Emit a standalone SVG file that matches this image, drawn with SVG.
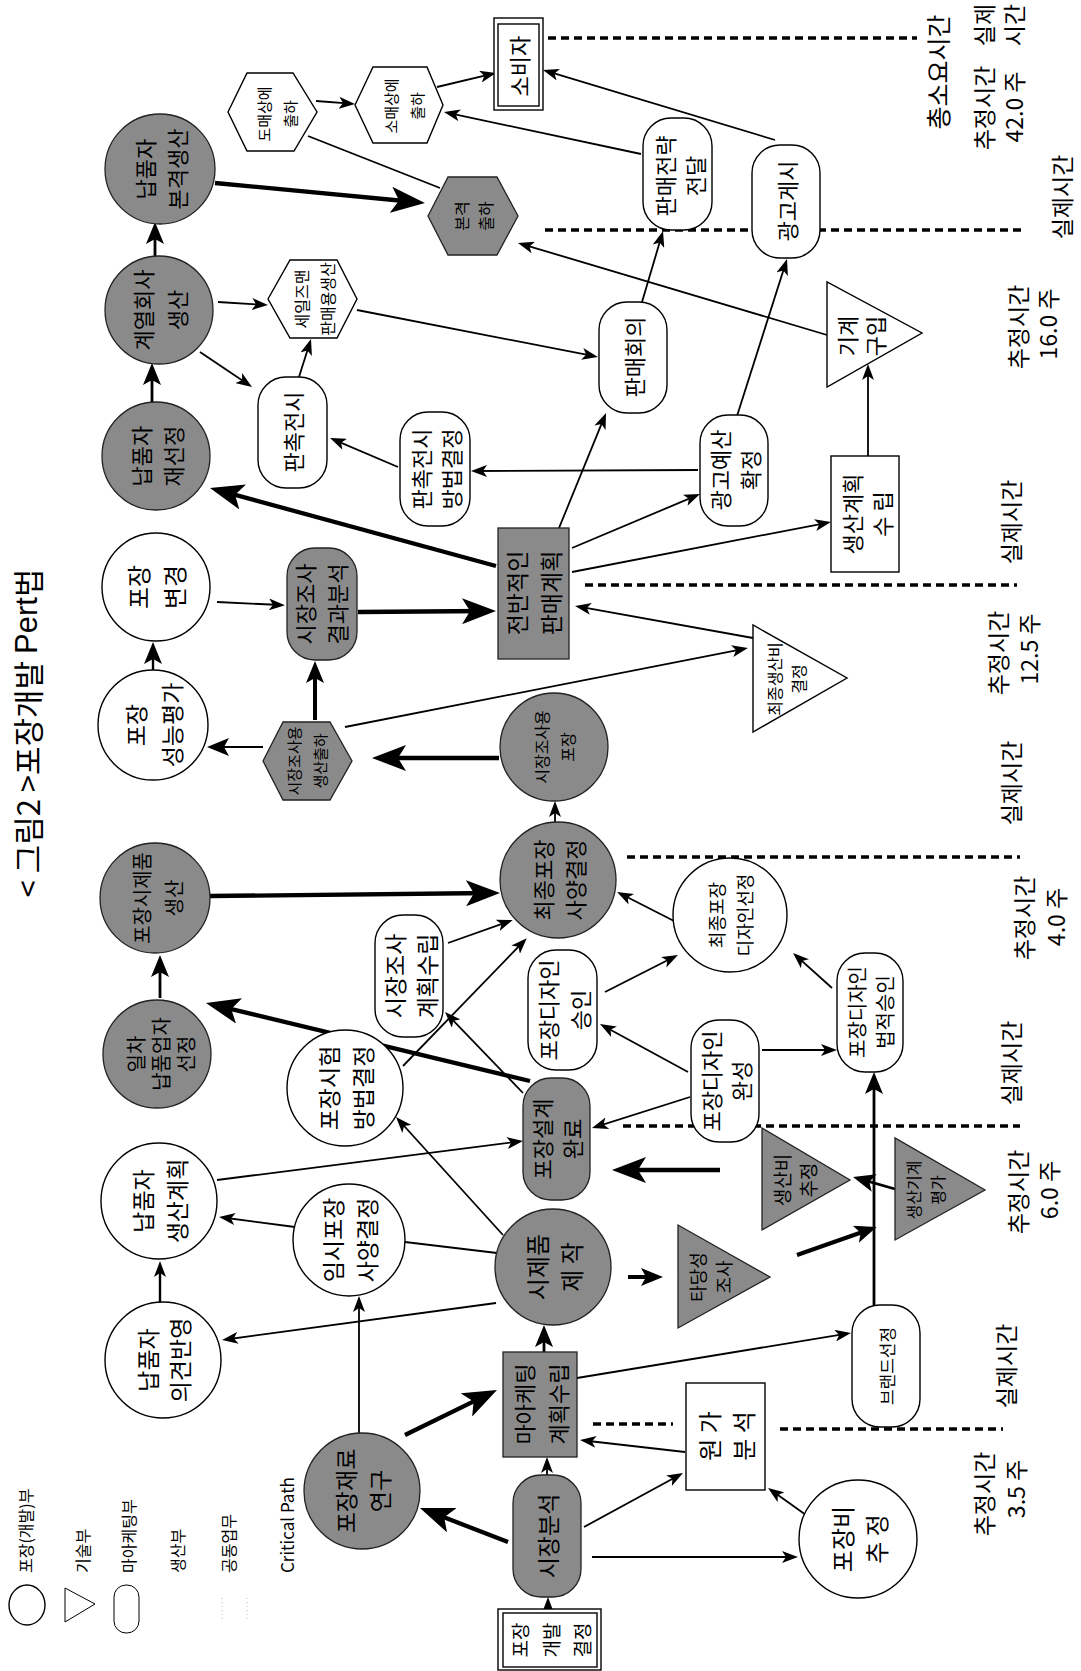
<svg xmlns="http://www.w3.org/2000/svg" width="1081" height="1671" viewBox="0 0 1081 1671">
<style>
.n{fill:#fff;stroke:#000;stroke-width:1.4}
.d{fill:#8a8a8a;stroke:#222;stroke-width:1.3}
.t{font-family:"Noto Sans CJK KR","Noto Sans",sans-serif;text-anchor:middle;dominant-baseline:central;fill:#000}
.s{font-family:"Noto Sans CJK KR","Noto Sans",sans-serif;text-anchor:start;dominant-baseline:central;fill:#000}
.l{stroke:#000;stroke-width:1.8;fill:none;marker-end:url(#ah)}
.lm{stroke:#000;stroke-width:2.8;fill:none;marker-end:url(#mh)}
.L{stroke:#000;stroke-width:4.3;fill:none;marker-end:url(#AH)}
.p{stroke:#000;stroke-width:1.8;fill:none}
.dash{stroke:#000;stroke-width:3.5;stroke-dasharray:8 5;fill:none}
</style>
<defs>
<marker id="ah" viewBox="0 0 16 12" refX="12" refY="6" markerWidth="16" markerHeight="12" markerUnits="userSpaceOnUse" orient="auto"><path d="M0,0L16,6L0,12L4,6z"/></marker>
<marker id="mh" viewBox="0 0 22 18" refX="16" refY="9" markerWidth="22" markerHeight="18" markerUnits="userSpaceOnUse" orient="auto"><path d="M0,0L22,9L0,18L5,9z"/></marker>
<marker id="AH" viewBox="0 0 34 26" refX="24" refY="13" markerWidth="34" markerHeight="26" markerUnits="userSpaceOnUse" orient="auto"><path d="M0,0L34,13L0,26L8,13z"/></marker>
</defs>
<rect width="1081" height="1671" fill="#fff"/>

<g id="dashes">
<path class="dash" d="M548,38H917"/>
<path class="dash" d="M545,230H1023"/>
<path class="dash" d="M585,585H1017"/>
<path class="dash" d="M627,857H1020"/>
<path class="dash" d="M623,1126H1020"/>
<path class="dash" d="M593,1424H673"/>
<path class="dash" d="M780,1429H1003"/>
</g>

<g id="connectors">
<line class="l" x1="548" y1="1609" x2="548" y2="1601"/>
<line class="l" x1="584" y1="1527" x2="679.5" y2="1475"/>
<line class="l" x1="592" y1="1557" x2="794" y2="1557"/>
<line class="l" x1="806" y1="1515" x2="771.3" y2="1490.3"/>
<line class="l" x1="685" y1="1452" x2="584" y2="1440.5"/>
<line class="l" x1="577" y1="1378" x2="847" y2="1333.6"/>
<line class="l" x1="547" y1="1475" x2="547" y2="1461"/>
<line class="l" x1="359" y1="1433" x2="359" y2="1300"/>
<line class="l" x1="496" y1="1303" x2="226" y2="1339.5"/>
<line class="l" x1="160" y1="1302" x2="160" y2="1265" style="stroke-width:2.4"/>
<line class="p" x1="497" y1="1253" x2="405" y2="1242"/>
<line class="l" x1="295" y1="1227" x2="223" y2="1217.5"/>
<line class="l" x1="503" y1="1235" x2="398.7" y2="1120"/>
<line class="l" x1="217" y1="1180" x2="519" y2="1141.5"/>
<line class="l" x1="690" y1="1097" x2="595.8" y2="1126.8"/>
<line class="l" x1="523" y1="1093" x2="447.8" y2="1014.9"/>
<line class="l" x1="403" y1="1066" x2="524" y2="941"/>
<line class="l" x1="448" y1="943" x2="509" y2="921.3"/>
<line class="l" x1="605" y1="992" x2="674.4" y2="956.8"/>
<line class="l" x1="676" y1="922" x2="620.6" y2="893.8"/>
<line class="l" x1="688" y1="1072" x2="603.5" y2="1026"/>
<line class="l" x1="762" y1="1050" x2="833" y2="1050"/>
<line class="l" x1="832" y1="988" x2="796" y2="955.7"/>
<line class="lm" x1="874" y1="1305" x2="874" y2="1078"/>
<line class="lm" x1="895" y1="1189" x2="858.8" y2="1178.6"/>
<line class="lm" x1="797" y1="1255" x2="871" y2="1229" style="stroke-width:4"/>
<line class="lm" x1="628" y1="1277" x2="657" y2="1277" style="stroke-width:4"/>
<line class="l" x1="555" y1="822" x2="555" y2="805"/>
<line class="L" x1="499" y1="758" x2="382" y2="758"/>
<line class="lm" x1="263" y1="747" x2="213" y2="747" style="stroke-width:2.2"/>
<line class="lm" x1="315" y1="720" x2="315" y2="667" style="stroke-width:4"/>
<line class="lm" x1="153" y1="670" x2="153" y2="648" style="stroke-width:2.4"/>
<line class="l" x1="217" y1="602" x2="281" y2="605"/>
<line class="L" x1="358" y1="612" x2="486" y2="611"/>
<line class="l" x1="345" y1="727" x2="744" y2="648.8"/>
<line class="l" x1="753" y1="638" x2="579" y2="606.7"/>
<line class="L" x1="496" y1="566" x2="219.6" y2="490.6"/>
<line class="l" x1="559" y1="528" x2="604.5" y2="416.7"/>
<line class="l" x1="572" y1="548" x2="696.3" y2="495.6"/>
<line class="l" x1="572" y1="572" x2="827" y2="522.8"/>
<line class="l" x1="698" y1="470" x2="475" y2="471"/>
<line class="l" x1="398" y1="467" x2="333.7" y2="439.6"/>
<line class="l" x1="737" y1="416" x2="785.8" y2="262.8"/>
<line class="l" x1="868" y1="456" x2="868" y2="368"/>
<line class="l" x1="827" y1="335" x2="521.8" y2="244.1"/>
<line class="l" x1="642" y1="302" x2="661.9" y2="234.8"/>
<line class="l" x1="641" y1="154" x2="447.9" y2="112.8"/>
<line class="l" x1="775" y1="140" x2="546.8" y2="71.2"/>
<line class="l" x1="437" y1="87" x2="492.1" y2="73.9"/>
<line class="l" x1="316" y1="101" x2="351" y2="103.7"/>
<line class="p" x1="308" y1="136" x2="440" y2="188"/>
<line class="L" x1="215" y1="183" x2="415" y2="202"/>
<line class="lm" x1="155" y1="257" x2="155" y2="228"/>
<line class="lm" x1="152" y1="402" x2="152" y2="369"/>
<line class="l" x1="218" y1="302" x2="264" y2="304.8"/>
<line class="l" x1="200" y1="352" x2="248.7" y2="384.8"/>
<line class="l" x1="299" y1="377" x2="309.8" y2="342.8"/>
<line class="l" x1="357" y1="310" x2="594" y2="356.2"/>
<line class="L" x1="210" y1="896" x2="490" y2="893"/>
<line class="lm" x1="160" y1="998" x2="160" y2="961"/>
<line class="L" x1="530" y1="1081" x2="215.7" y2="1005.3"/>
<line class="L" x1="720" y1="1170" x2="622" y2="1170"/>
<line class="lm" x1="544" y1="1352" x2="544" y2="1331"/>
<line class="L" x1="508" y1="1542" x2="429.3" y2="1511.6"/>
<line class="L" x1="405" y1="1435" x2="488" y2="1394.4"/>
</g>

<g id="n-consumer"><rect class="n" x="494" y="18" width="49" height="92"/><rect class="n" x="498" y="24" width="41" height="82"/><text class="t" font-size="22" transform="rotate(-90 518 66)" x="518" y="66">소비자</text></g>
<g id="n-wholesale"><polygon class="n" points="228,112 247,73 293,73 317,112 294,151 247,151"/><text class="t" font-size="15" transform="rotate(-90 276 114)"><tspan x="276" y="101">도매상에</tspan><tspan x="276" y="127">출하</tspan></text></g>
<g id="n-retail"><polygon class="n" points="355,105 373,67 427,67 443,105 427,143 373,143"/><text class="t" font-size="15" transform="rotate(-90 403 106)"><tspan x="403" y="93">소매상에</tspan><tspan x="403" y="119">출하</tspan></text></g>
<g id="n-fullship"><polygon class="d" points="428,216 448,177 497,177 518,216 497,255 448,255"/><text class="t" font-size="16" transform="rotate(-90 473 216)"><tspan x="473" y="204">본격</tspan><tspan x="473" y="228">출하</tspan></text></g>
<g id="n-strategy"><rect class="n" x="643" y="118" width="69" height="112" rx="28"/><text class="t" font-size="22" transform="rotate(-90 679 176)"><tspan x="679" y="161">판매전략</tspan><tspan x="679" y="191">전달</tspan></text></g>
<g id="n-ad"><rect class="n" x="752" y="145" width="68" height="113" rx="28"/><text class="t" font-size="22" transform="rotate(-90 786 201)" x="786" y="201">광고게시</text></g>
<g id="n-salesmeet"><rect class="n" x="599" y="302" width="68" height="111" rx="28"/><text class="t" font-size="22" transform="rotate(-90 633 357)" x="633" y="357">판매회의</text></g>
<g id="n-machine"><polygon class="n" points="827,282 827,387 922,333"/><text class="t" font-size="22" transform="rotate(-90 860 336)"><tspan x="860" y="322">기계</tspan><tspan x="860" y="350">구입</tspan></text></g>
<g id="n-salesman"><polygon class="n" points="268,299 290,260 337,260 357,299 337,338 290,338"/><text class="t" font-size="16" transform="rotate(-90 314 299)"><tspan x="314" y="286">세일즈맨</tspan><tspan x="314" y="312">판매용생산</tspan></text></g>
<g id="n-supplierprod"><circle class="d" cx="160" cy="169" r="55"/><text class="t" font-size="22" transform="rotate(-90 160 169)"><tspan x="160" y="153">납품자</tspan><tspan x="160" y="185">본격생산</tspan></text></g>
<g id="n-affprod"><circle class="d" cx="159" cy="310" r="54"/><text class="t" font-size="22" transform="rotate(-90 159 310)"><tspan x="159" y="293">계열회사</tspan><tspan x="159" y="327">생산</tspan></text></g>
<g id="n-promo"><rect class="n" x="258" y="377" width="69" height="111" rx="28"/><text class="t" font-size="22" transform="rotate(-90 292 432)" x="292" y="432">판촉전시</text></g>
<g id="n-reselect"><circle class="d" cx="156" cy="456" r="54"/><text class="t" font-size="22" transform="rotate(-90 156 456)"><tspan x="156" y="440">납품자</tspan><tspan x="156" y="472">재선정</tspan></text></g>
<g id="n-promomethod"><rect class="n" x="400" y="412" width="70" height="114" rx="28"/><text class="t" font-size="22" transform="rotate(-90 435 469)"><tspan x="435" y="454">판촉전시</tspan><tspan x="435" y="484">방법결정</tspan></text></g>
<g id="n-adbudget"><rect class="n" x="700" y="415" width="68" height="111" rx="28"/><text class="t" font-size="22" transform="rotate(-90 734 470)"><tspan x="734" y="455">광고예산</tspan><tspan x="734" y="485">확정</tspan></text></g>
<g id="n-prodplan"><rect class="n" x="831" y="456" width="68" height="116"/><text class="t" font-size="22" transform="rotate(-90 866 514)"><tspan x="866" y="499">생산계획</tspan><tspan x="866" y="529">수 립</tspan></text></g>
<g id="n-salesplan"><rect class="d" x="498" y="528" width="71" height="131"/><text class="t" font-size="23" transform="rotate(-90 533 593)"><tspan x="533" y="576">전반적인</tspan><tspan x="533" y="610">판매계획</tspan></text></g>
<g id="n-mrresult"><rect class="d" x="287" y="548" width="70" height="112" rx="28"/><text class="t" font-size="22" transform="rotate(-90 320 604)"><tspan x="320" y="588">시장조사</tspan><tspan x="320" y="620">결과분석</tspan></text></g>
<g id="n-pkgchange"><circle class="n" cx="156" cy="587" r="54"/><text class="t" font-size="24" transform="rotate(-90 155 587)"><tspan x="155" y="569">포장</tspan><tspan x="155" y="605">변경</tspan></text></g>
<g id="n-pkgeval"><circle class="n" cx="153" cy="725" r="55"/><text class="t" font-size="23" transform="rotate(-90 153 725)"><tspan x="153" y="707">포장</tspan><tspan x="153" y="743">성능평가</tspan></text></g>
<g id="n-mrship"><polygon class="d" points="263,761 283,722 330,722 352,761 330,800 283,800"/><text class="t" font-size="15" transform="rotate(-90 306 761)"><tspan x="306" y="748">시장조사용</tspan><tspan x="306" y="774">생산출하</tspan></text></g>
<g id="n-mrpkg"><circle class="d" cx="554" cy="747" r="54"/><text class="t" font-size="16" transform="rotate(-90 554 747)"><tspan x="554" y="734">시장조사용</tspan><tspan x="554" y="760">포장</tspan></text></g>
<g id="n-finalcost"><polygon class="n" points="753,625 753,732 847,678"/><text class="t" font-size="16" transform="rotate(-90 786 679)"><tspan x="786" y="667">최종생산비</tspan><tspan x="786" y="691">결정</tspan></text></g>
<g id="n-protoprod"><circle class="d" cx="155" cy="898" r="55"/><text class="t" font-size="20" transform="rotate(-90 157 898)"><tspan x="157" y="882">포장시제품</tspan><tspan x="157" y="914">생산</tspan></text></g>
<g id="n-firstsupplier"><circle class="d" cx="157" cy="1054" r="54"/><text class="t" font-size="20" transform="rotate(-90 160 1054)"><tspan x="160" y="1029">일차</tspan><tspan x="160" y="1054">납품업자</tspan><tspan x="160" y="1079">선정</tspan></text></g>
<g id="n-testmethod"><circle class="n" cx="345" cy="1088" r="58"/><text class="t" font-size="23" transform="rotate(-90 345 1088)"><tspan x="345" y="1071">포장시험</tspan><tspan x="345" y="1105">방법결정</tspan></text></g>
<g id="n-supplierplan"><circle class="n" cx="159" cy="1201" r="58"/><text class="t" font-size="23" transform="rotate(-90 159 1201)"><tspan x="159" y="1184">납품자</tspan><tspan x="159" y="1218">생산계획</tspan></text></g>
<g id="n-tempspec"><circle class="n" cx="349" cy="1240" r="56"/><text class="t" font-size="23" transform="rotate(-90 349 1240)"><tspan x="349" y="1223">임시포장</tspan><tspan x="349" y="1257">사양결정</tspan></text></g>
<g id="n-finalspec"><circle class="d" cx="558" cy="880" r="58"/><text class="t" font-size="22" transform="rotate(-90 558 880)"><tspan x="558" y="864">최종포장</tspan><tspan x="558" y="896">사양결정</tspan></text></g>
<g id="n-mrplan"><rect class="n" x="375" y="915" width="68" height="122" rx="28"/><text class="t" font-size="23" transform="rotate(-90 410 976)"><tspan x="410" y="960">시장조사</tspan><tspan x="410" y="992">계획수립</tspan></text></g>
<g id="n-designok"><rect class="n" x="528" y="950" width="69" height="120" rx="28"/><text class="t" font-size="22" transform="rotate(-90 563 1010)"><tspan x="563" y="994">포장디자인</tspan><tspan x="563" y="1026">승인</tspan></text></g>
<g id="n-finaldesign"><circle class="n" cx="730" cy="915" r="57"/><text class="t" font-size="18" transform="rotate(-90 730 915)"><tspan x="730" y="901">최종포장</tspan><tspan x="730" y="929">디자인선정</tspan></text></g>
<g id="n-designdone"><rect class="d" x="523" y="1078" width="67" height="122" rx="28"/><text class="t" font-size="22" transform="rotate(-90 556 1139)"><tspan x="556" y="1124">포장설계</tspan><tspan x="556" y="1154">완료</tspan></text></g>
<g id="n-designmade"><rect class="n" x="691" y="1020" width="68" height="122" rx="28"/><text class="t" font-size="22" transform="rotate(-90 725 1081)"><tspan x="725" y="1066">포장디자인</tspan><tspan x="725" y="1096">완성</tspan></text></g>
<g id="n-legal"><rect class="n" x="837" y="953" width="66" height="119" rx="28"/><text class="t" font-size="20" transform="rotate(-90 870 1012)"><tspan x="870" y="998">포장디자인</tspan><tspan x="870" y="1026">법적승인</tspan></text></g>
<g id="n-costest"><polygon class="d" points="762,1128 762,1230 850,1180"/><text class="t" font-size="19" transform="rotate(-90 794 1180)"><tspan x="794" y="1167">생산비</tspan><tspan x="794" y="1193">추정</tspan></text></g>
<g id="n-machineeval"><polygon class="d" points="895,1138 895,1240 985,1190"/><text class="t" font-size="16" transform="rotate(-90 925 1190)"><tspan x="925" y="1178">생산기계</tspan><tspan x="925" y="1202">평가</tspan></text></g>
<g id="n-proto"><circle class="d" cx="553" cy="1267" r="58"/><text class="t" font-size="24" transform="rotate(-90 553 1267)"><tspan x="553" y="1250">시제품</tspan><tspan x="553" y="1284">제 작</tspan></text></g>
<g id="n-feasibility"><polygon class="d" points="678,1225 678,1328 770,1277"/><text class="t" font-size="18" transform="rotate(-90 710 1277)"><tspan x="710" y="1264">타당성</tspan><tspan x="710" y="1290">조사</tspan></text></g>
<g id="n-feedback"><circle class="n" cx="163" cy="1360" r="58"/><text class="t" font-size="23" transform="rotate(-90 163 1360)"><tspan x="163" y="1344">납품자</tspan><tspan x="163" y="1376">의견반영</tspan></text></g>
<g id="n-material"><circle class="d" cx="362" cy="1491" r="58"/><text class="t" font-size="23" transform="rotate(-90 362 1491)"><tspan x="362" y="1474">포장재료</tspan><tspan x="362" y="1508">연구</tspan></text></g>
<g id="n-mktplan"><rect class="d" x="503" y="1352" width="74" height="105"/><text class="t" font-size="22" transform="rotate(-90 540 1404)"><tspan x="540" y="1387">마아케팅</tspan><tspan x="540" y="1421">계획수립</tspan></text></g>
<g id="n-costanalysis"><rect class="n" x="686" y="1383" width="79" height="107"/><text class="t" font-size="24" transform="rotate(-90 725 1436)"><tspan x="725" y="1419">원 가</tspan><tspan x="725" y="1453">분 석</tspan></text></g>
<g id="n-brand"><rect class="n" x="852" y="1305" width="68" height="122" rx="28"/><text class="t" font-size="17" transform="rotate(-90 886 1366)" x="886" y="1366">브랜드선정</text></g>
<g id="n-market"><rect class="d" x="513" y="1475" width="68" height="122" rx="28"/><text class="t" font-size="23" transform="rotate(-90 547 1536)" x="547" y="1536">시장분석</text></g>
<g id="n-pkgcost"><circle class="n" cx="858" cy="1539" r="59"/><text class="t" font-size="24" transform="rotate(-90 858 1539)"><tspan x="858" y="1522">포장비</tspan><tspan x="858" y="1556">추 정</tspan></text></g>
<g id="n-start"><rect class="n" x="498" y="1609" width="103" height="61"/><rect class="n" x="503" y="1613" width="94" height="54"/><text class="t" font-size="19" transform="rotate(-90 550 1640)"><tspan x="550" y="1609">포장</tspan><tspan x="550" y="1640">개발</tspan><tspan x="550" y="1671">결정</tspan></text></g>

<g id="timeline">
<text class="t" font-size="25" transform="rotate(-90 937 72)" x="937" y="72">총소요시간</text>
<text class="t" font-size="23" transform="rotate(-90 983 25)" x="983" y="25">실제</text>
<text class="t" font-size="23" transform="rotate(-90 1013 25)" x="1013" y="25">시간</text>
<text class="t" font-size="23" transform="rotate(-90 983 108)" x="983" y="108">추정시간</text>
<text class="t" font-size="23" transform="rotate(-90 1013 107)" x="1013" y="107">42.0 주</text>
<text class="t" font-size="23" transform="rotate(-90 1061 197)" x="1061" y="197">실제시간</text>
<text class="t" font-size="23" transform="rotate(-90 1017 327)" x="1017" y="327">추정시간</text>
<text class="t" font-size="23" transform="rotate(-90 1047 324)" x="1047" y="324">16.0 주</text>
<text class="t" font-size="23" transform="rotate(-90 1010 522)" x="1010" y="522">실제시간</text>
<text class="t" font-size="23" transform="rotate(-90 997 653)" x="997" y="653">추정시간</text>
<text class="t" font-size="23" transform="rotate(-90 1028 649)" x="1028" y="649">12.5 주</text>
<text class="t" font-size="23" transform="rotate(-90 1010 783)" x="1010" y="783">실제시간</text>
<text class="t" font-size="23" transform="rotate(-90 1023 918)" x="1023" y="918">추정시간</text>
<text class="t" font-size="23" transform="rotate(-90 1055 917)" x="1055" y="917">4.0 주</text>
<text class="t" font-size="23" transform="rotate(-90 1010 1063)" x="1010" y="1063">실제시간</text>
<text class="t" font-size="23" transform="rotate(-90 1017 1192)" x="1017" y="1192">추정시간</text>
<text class="t" font-size="23" transform="rotate(-90 1048 1190)" x="1048" y="1190">6.0 주</text>
<text class="t" font-size="23" transform="rotate(-90 1005 1366)" x="1005" y="1366">실제시간</text>
<text class="t" font-size="23" transform="rotate(-90 983 1494)" x="983" y="1494">추정시간</text>
<text class="t" font-size="23" transform="rotate(-90 1015 1489)" x="1015" y="1489">3.5 주</text>
</g>

<g id="title"><text class="t" font-size="31" transform="rotate(-90 26 733)" x="26" y="733">&lt; 그림2 &gt;포장개발  <tspan font-family="'Liberation Sans',sans-serif">Pert</tspan>법</text></g>

<g id="legend">
<ellipse class="n" cx="27" cy="1605" rx="18" ry="20"/>
<polygon class="n" points="65,1588 65,1622 95,1604" style="stroke-width:1"/>
<rect class="n" x="114" y="1585" width="25" height="48" rx="12" style="stroke-width:1"/>
<line x1="222" y1="1598" x2="222" y2="1622" stroke="#bbb" stroke-width="1" stroke-dasharray="1 3"/>
<line x1="247" y1="1598" x2="247" y2="1622" stroke="#bbb" stroke-width="1" stroke-dasharray="1 3"/>
<text class="s" font-size="16" transform="rotate(-90 25 1573)" x="25" y="1573">포장(개발)부</text>
<text class="s" font-size="16" transform="rotate(-90 82 1573)" x="82" y="1573">기술부</text>
<text class="s" font-size="16" transform="rotate(-90 128 1573)" x="128" y="1573">마아케팅부</text>
<text class="s" font-size="16" transform="rotate(-90 177 1573)" x="177" y="1573">생산부</text>
<text class="s" font-size="16" transform="rotate(-90 228 1573)" x="228" y="1573">공동업무</text>
<text class="s" font-size="17" transform="rotate(-90 286 1573)" x="286" y="1573" font-family="'Liberation Sans',sans-serif">Critical Path</text>
</g>
</svg>
